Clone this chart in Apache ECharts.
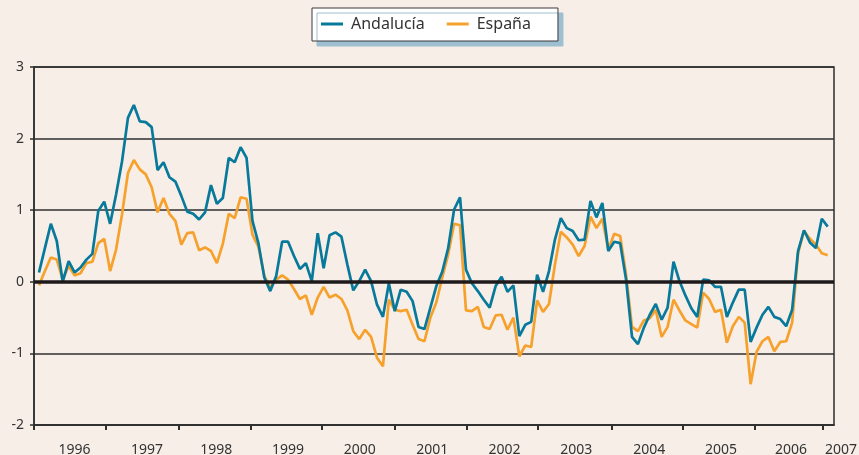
<!DOCTYPE html>
<html>
<head>
<meta charset="utf-8">
<script src="https://cdn.jsdelivr.net/npm/echarts@6/dist/echarts.min.js"></script>
<style>
  html, body { margin: 0; padding: 0; background: #f7eee8; }
  #main { width: 859px; height: 455px; }
</style>
</head>
<body>
<div id="main"></div>
<script>
// monthly values, first point = start of 1996
const andalucia = [
  0.13, 0.47, 0.81, 0.57, 0.00, 0.29, 0.13, 0.20, 0.31, 0.39, 0.99, 1.12,
  0.81, 1.22, 1.68, 2.29, 2.47, 2.24, 2.23, 2.16, 1.56, 1.67, 1.46, 1.40,
  1.20, 0.98, 0.95, 0.87, 0.97, 1.35, 1.09, 1.17, 1.73, 1.67, 1.88, 1.73,
  0.85, 0.54, 0.06, -0.13, 0.08, 0.56, 0.56, 0.36, 0.18, 0.26, 0.01, 0.68,
  0.19, 0.65, 0.69, 0.63, 0.24, -0.12, 0.01, 0.17, 0.01, -0.32, -0.49, -0.02,
  -0.41, -0.11, -0.14, -0.27, -0.63, -0.66, -0.36, -0.06, 0.14, 0.47, 1.01, 1.18,
  0.17, -0.02, -0.13, -0.25, -0.36, -0.06, 0.07, -0.14, -0.05, -0.76, -0.60, -0.56,
  0.10, -0.14, 0.15, 0.59, 0.89, 0.75, 0.71, 0.58, 0.59, 1.13, 0.90, 1.10,
  0.43, 0.56, 0.54, 0.03, -0.77, -0.87, -0.64, -0.46, -0.31, -0.53, -0.36, 0.28,
  0.01, -0.19, -0.37, -0.49, 0.03, 0.02, -0.07, -0.07, -0.49, -0.29, -0.11, -0.11,
  -0.84, -0.64, -0.46, -0.35, -0.49, -0.52, -0.62, -0.39, 0.43, 0.72, 0.55, 0.47,
  0.88, 0.77
]
const espana = [
  -0.05, 0.15, 0.34, 0.31, 0.03, 0.22, 0.09, 0.12, 0.26, 0.28, 0.54, 0.60,
  0.15, 0.45, 0.94, 1.52, 1.70, 1.57, 1.50, 1.32, 0.97, 1.17, 0.95, 0.85,
  0.52, 0.68, 0.69, 0.44, 0.48, 0.43, 0.26, 0.53, 0.95, 0.89, 1.18, 1.16,
  0.66, 0.49, 0.08, -0.08, 0.03, 0.09, 0.03, -0.10, -0.24, -0.19, -0.46, -0.22,
  -0.07, -0.22, -0.18, -0.24, -0.40, -0.69, -0.80, -0.67, -0.77, -1.06, -1.18, -0.25,
  -0.39, -0.41, -0.39, -0.60, -0.80, -0.83, -0.50, -0.29, 0.06, 0.38, 0.81, 0.79,
  -0.40, -0.41, -0.35, -0.63, -0.66, -0.47, -0.46, -0.67, -0.50, -1.04, -0.89, -0.91,
  -0.26, -0.42, -0.31, 0.24, 0.70, 0.62, 0.52, 0.36, 0.50, 0.91, 0.75, 0.88,
  0.45, 0.67, 0.64, 0.10, -0.63, -0.69, -0.54, -0.51, -0.39, -0.77, -0.63, -0.25,
  -0.40, -0.54, -0.59, -0.64, -0.15, -0.24, -0.42, -0.39, -0.85, -0.62, -0.49, -0.57,
  -1.43, -0.98, -0.83, -0.77, -0.97, -0.84, -0.83, -0.57, 0.40, 0.71, 0.60, 0.52,
  0.40, 0.37
]
const years = ['1996', '1997', '1998', '1999', '2000', '2001', '2002', '2003', '2004', '2005', '2006', '2007']
// where the year ticks and year labels sit, in months from the first point
const yearTicks = [-0.84, 11.3, 23.6, 35.75, 47.7, 60.0, 72.2, 84.1, 96.5, 108.6, 120.7, 132.2]
const yearLabelPos = [6.0, 18.2, 29.9, 42.0, 54.1, 66.3, 78.5, 90.6, 102.9, 115.0, 126.8, 134.06]

const xMin = -0.84
const xMax = 134.06

let myChart = echarts.init(document.getElementById('main'))

function yearFor (value) {
  for (let i = 0; i < yearLabelPos.length; i++) {
    if (Math.abs(yearLabelPos[i] - value) < 0.01) {
      // last label sits past the plot edge
      if (i === yearLabelPos.length - 1) return '{r|' + years[i] + '}'
      return years[i]
    }
  }
  return ''
}

let option = {
  backgroundColor: '#f7eee8',
  textStyle: { fontFamily: 'Noto Sans' },
  grid: {
    left: 34,
    right: 25,
    top: 67,
    bottom: 30,
    outerBoundsMode: 'none',
    show: true,
    borderColor: '#2f2f2f',
    borderWidth: 1.5,
    backgroundColor: 'transparent'
  },
  legend: {
    data: [
      { name: 'Andalucía', icon: 'rect' },
      { name: 'España', icon: 'rect' }
    ],
    left: 312,
    top: 8,
    itemWidth: 22,
    itemHeight: 3,
    itemGap: 22,
    padding: [8, 27, 9, 9],
    backgroundColor: '#ffffff',
    borderColor: '#3a3a3a',
    borderWidth: 1,
    shadowColor: '#9dbfd0',
    shadowBlur: 0,
    shadowOffsetX: 5,
    shadowOffsetY: 5,
    textStyle: {
      fontSize: 16,
      color: '#333',
      padding: [0, 0, 0, 3]
    }
  },
  xAxis: {
    type: 'value',
    min: xMin,
    max: xMax,
    axisLine: { show: true, onZero: false, lineStyle: { color: '#2f2f2f', width: 1.5 } },
    axisTick: {
      show: true,
      length: 5,
      customValues: yearTicks,
      lineStyle: { color: '#2f2f2f', width: 2 }
    },
    axisLabel: {
      customValues: yearLabelPos,
      margin: 18,
      fontSize: 14,
      color: '#333',
      formatter: yearFor,
      rich: {
        r: { fontSize: 14, color: '#333', padding: [0, 0, 0, 14] }
      }
    },
    splitLine: { show: false }
  },
  yAxis: {
    type: 'value',
    min: -2,
    max: 3,
    interval: 1,
    axisLine: { show: true, onZero: false, lineStyle: { color: '#2f2f2f', width: 1.5 } },
    axisTick: { show: true, length: 4, lineStyle: { color: '#2f2f2f', width: 1.5 } },
    axisLabel: { fontSize: 14, color: '#333', margin: 10 },
    splitLine: { show: true, lineStyle: { color: '#2f2f2f', width: 1.5 } }
  },
  series: [
    {
      name: 'Andalucía',
      type: 'line',
      showSymbol: false,
      z: 3,
      color: '#07799b',
      lineStyle: { width: 2.7, color: '#07799b' },
      data: andalucia.map((v, i) => [i, v]),
      markLine: {
        silent: true,
        symbol: 'none',
        label: { show: false },
        lineStyle: { color: '#1e1a1b', width: 3.5, type: 'solid' },
        data: [{ yAxis: 0 }]
      }
    },
    {
      name: 'España',
      type: 'line',
      showSymbol: false,
      z: 2,
      color: '#f7a12d',
      lineStyle: { width: 2.7, color: '#f7a12d' },
      data: espana.map((v, i) => [i, v])
    }
  ]
}
myChart.setOption(option)
</script>
</body>
</html>
